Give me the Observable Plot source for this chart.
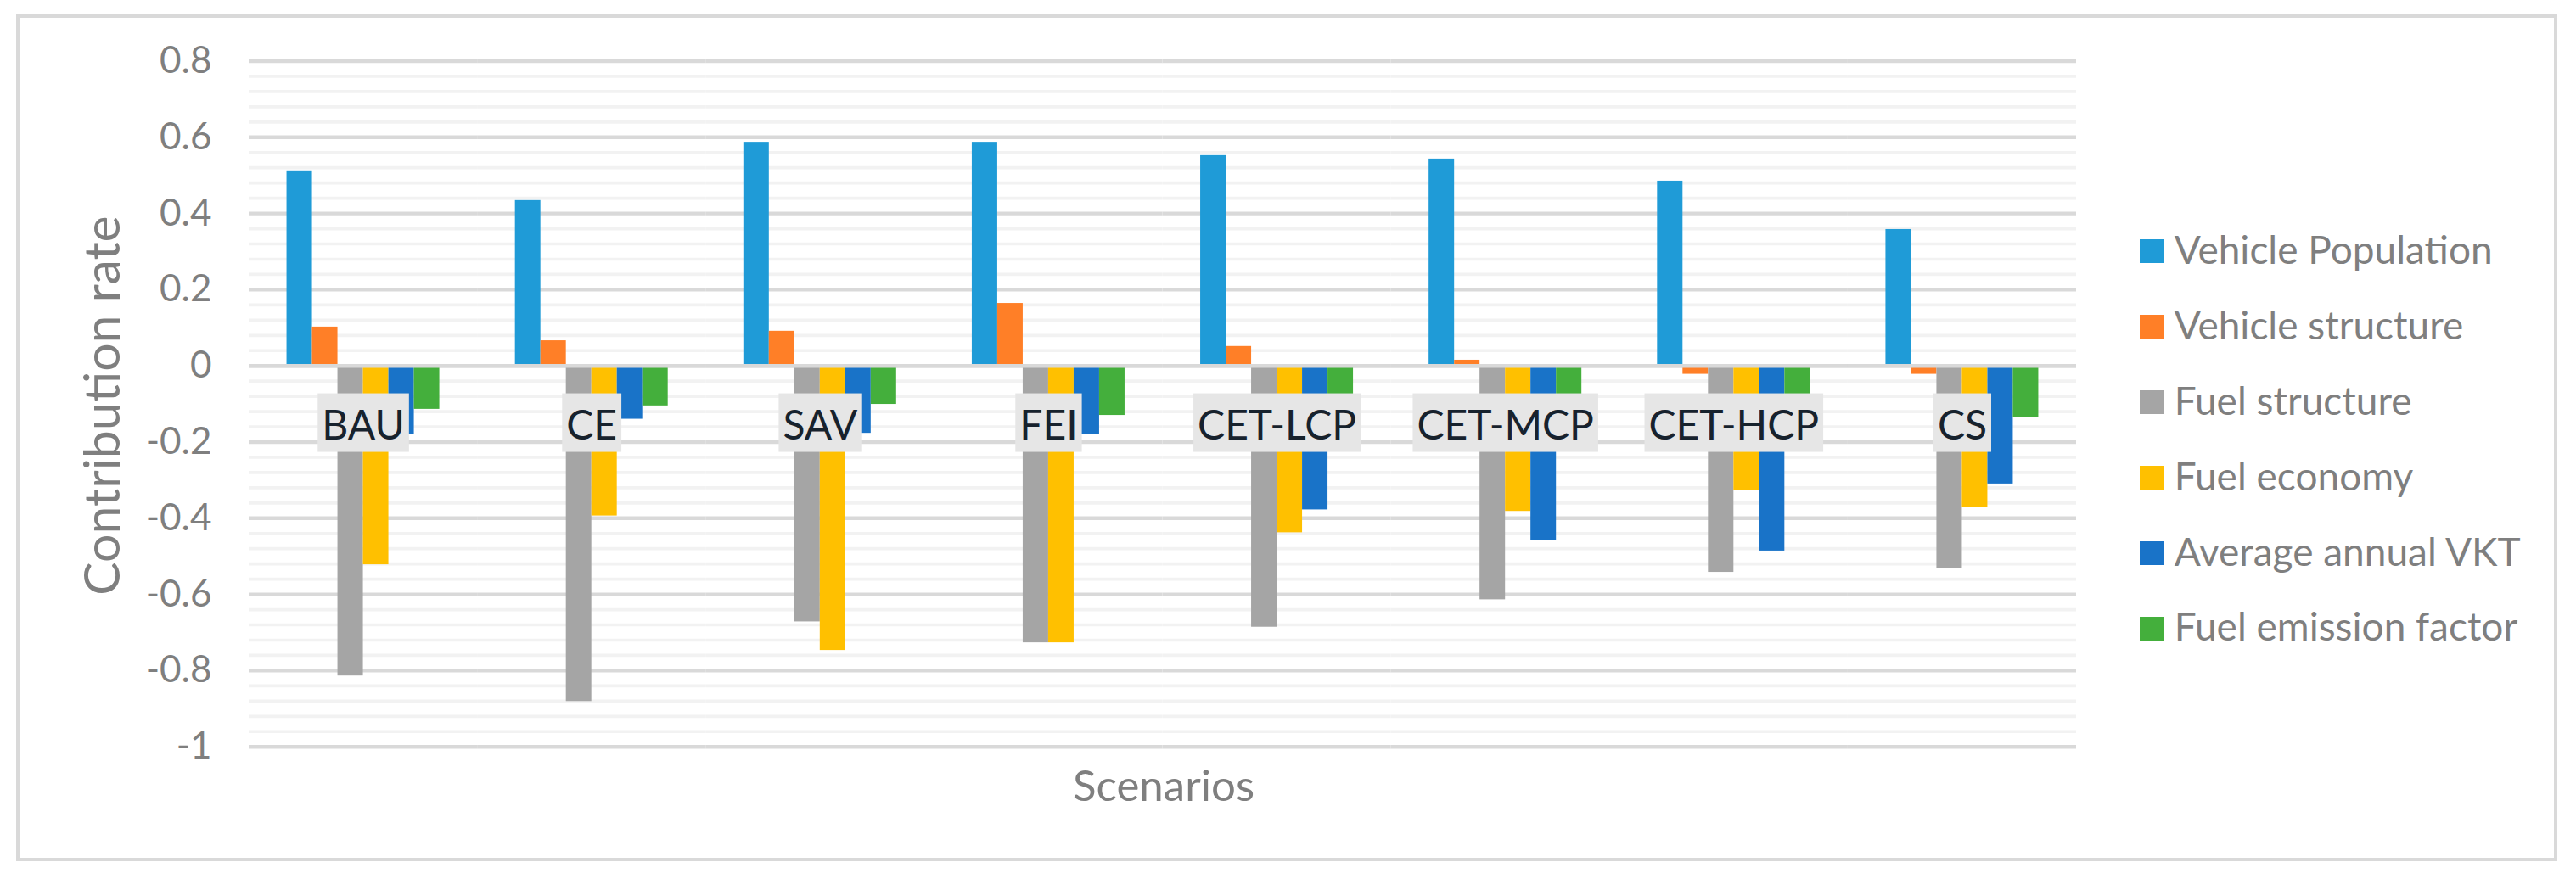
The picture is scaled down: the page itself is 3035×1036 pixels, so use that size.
<!DOCTYPE html>
<html>
<head>
<meta charset="utf-8">
<script src="https://cdn.jsdelivr.net/npm/d3@7"></script>
<script src="https://cdn.jsdelivr.net/npm/@observablehq/plot@0.6"></script>
<style>
  html, body { margin: 0; padding: 0; background: #ffffff; }
  #wrap { position: relative; width: 3035px; height: 1036px; font-family: Lato, sans-serif; overflow: hidden; }
  #frame { position: absolute; left: 19px; top: 17px; width: 2994px; height: 998px; box-sizing: border-box; border: 4.5px solid #d9d9d9; }
  #chart { position: absolute; left: 0; top: 0; }
  #chart svg { overflow: visible; }
  #ytitle { position: absolute; left: 118px; top: 478px; transform: translate(-50%, -50%) rotate(-90deg); font-size: 59px; color: #7f7f7f; white-space: nowrap; }
  #xtitle { position: absolute; left: 1371px; top: 924px; transform: translate(-50%, -50%); font-size: 51px; color: #7f7f7f; white-space: nowrap; }
  #legend { position: absolute; left: 2521px; top: 249px; font-size: 46px; color: #7f7f7f; }
  #legend .item { height: 88.9px; display: flex; align-items: center; white-space: nowrap; }
  #legend .sw { width: 28px; height: 28px; margin-right: 12.7px; position: relative; top: 3px; flex: none; }
</style>
</head>
<body>
<div id="wrap">
  <div id="frame"></div>
  <div id="chart"></div>
  <div id="ytitle">Contribution rate</div>
  <div id="xtitle">Scenarios</div>
  <div id="legend"></div>
</div>
<script>
// ---- data ----
const scenarios = ["BAU", "CE", "SAV", "FEI", "CET-LCP", "CET-MCP", "CET-HCP", "CS"];
const factors = ["Vehicle Population", "Vehicle structure", "Fuel structure", "Fuel economy", "Average annual VKT", "Fuel emission factor"];
const vehiclePopulation  = [0.512, 0.434, 0.587, 0.587, 0.552, 0.543, 0.485, 0.358];
const vehicleStructure   = [0.102, 0.066, 0.091, 0.164, 0.051, 0.015, -0.022, -0.022];
const fuelStructure      = [-0.814, -0.881, -0.672, -0.727, -0.686, -0.614, -0.542, -0.532];
const fuelEconomy        = [-0.522, -0.394, -0.747, -0.727, -0.438, -0.382, -0.327, -0.371];
const averageAnnualVKT   = [-0.181, -0.140, -0.177, -0.180, -0.378, -0.458, -0.486, -0.310];
const fuelEmissionFactor = [-0.114, -0.105, -0.101, -0.130, -0.090, -0.090, -0.090, -0.136];
const factorColors = ["#1f9bd7", "#ff7f27", "#a5a5a5", "#ffc000", "#1973c8", "#44af3c"];
const yTicks = [0.8, 0.6, 0.4, 0.2, 0, -0.2, -0.4, -0.6, -0.8, -1];
const axisCross = 0;

const seriesValues = [vehiclePopulation, vehicleStructure, fuelStructure, fuelEconomy, averageAnnualVKT, fuelEmissionFactor];
const rows = scenarios.flatMap((s, i) => factors.map((f, j) => ({scenario: s, factor: f, value: seriesValues[j][i]})));

// minor gridlines every 0.04
const minorGrid = d3.range(46).map(i => Math.round((-1 + i * 0.04) * 100) / 100)
  .filter(v => Math.abs(Math.round(v * 5) - v * 5) > 1e-6);

const plot = Plot.plot({
  width: 2480,
  height: 1000,
  marginLeft: 293,
  marginRight: 34,
  marginTop: 71.5,
  marginBottom: 120.3,
  style: {fontFamily: "Lato, sans-serif", fontSize: "44px", color: "#7f7f7f", background: "transparent", overflow: "visible"},
  facet: {data: rows, x: "scenario"},
  fx: {domain: scenarios, paddingInner: 0, paddingOuter: 0, axis: null, round: false, label: null},
  x: {domain: factors, paddingInner: 0, paddingOuter: 1.485, axis: null, round: false, label: null},
  y: {domain: [-1, 0.8], ticks: yTicks, tickFormat: d => String(d), tickSize: 0, tickPadding: 44, label: null},
  color: {domain: factors, range: factorColors},
  marks: [
    Plot.ruleY(minorGrid, {stroke: "#f2f2f2", strokeWidth: 3.7}),
    Plot.ruleY(yTicks, {stroke: "#d9d9d9", strokeWidth: 4.4}),
    Plot.barY(rows, {x: "factor", y: "value", fill: "factor"}),
    Plot.ruleY([axisCross], {stroke: "#d9d9d9", strokeWidth: 4.4}),
    Plot.text(rows, Plot.selectFirst({
      text: "scenario",
      y: () => axisCross,
      dy: 71,
      fontSize: 48,
      fill: "#17222d",
      ariaDescription: "scenario-labels"
    }))
  ]
});

document.getElementById("chart").append(plot);

// label boxes behind category labels
const labelSet = new Set(scenarios);
let labelTexts = Array.from(plot.querySelectorAll('g[aria-description="scenario-labels"] text'));
if (!labelTexts.length) {
  labelTexts = Array.from(plot.querySelectorAll("text")).filter(t => labelSet.has(t.textContent) && t.closest('g[aria-label="text"]'));
}
labelTexts.forEach(t => {
  const b = t.getBBox();
  const r = document.createElementNS("http://www.w3.org/2000/svg", "rect");
  r.setAttribute("x", b.x - 5);
  r.setAttribute("y", b.y + b.height / 2 - 35.5);
  r.setAttribute("width", b.width + 10);
  r.setAttribute("height", 69);
  r.setAttribute("fill", "#e6e6e6");
  const tr = t.getAttribute("transform");
  if (tr) r.setAttribute("transform", tr);
  t.parentNode.insertBefore(r, t);
});

// legend
const legend = document.getElementById("legend");
factors.forEach((f, i) => {
  const row = document.createElement("div");
  row.className = "item";
  const sw = document.createElement("span");
  sw.className = "sw";
  sw.style.background = factorColors[i];
  const lab = document.createElement("span");
  lab.textContent = f;
  row.append(sw, lab);
  legend.append(row);
});
</script>
</body>
</html>
